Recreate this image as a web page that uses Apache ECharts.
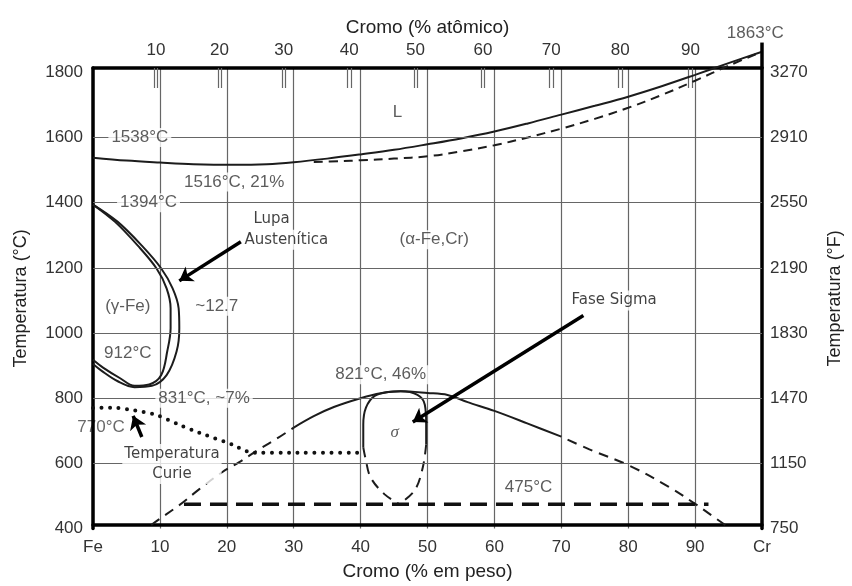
<!DOCTYPE html>
<html>
<head>
<meta charset="utf-8">
<script src="https://cdn.jsdelivr.net/npm/echarts@6/dist/echarts.min.js"></script>
<style>
  html, body { margin: 0; padding: 0; background: #fff; }
  #chart { width: 852px; height: 586px; }
</style>
</head>
<body>
<div id="chart"></div>
<script>
// Fe–Cr equilibrium phase diagram: chromium content (wt%) against temperature (°C)

// Bottom axis tick labels (wt% Cr, every 10 %)
const wtTickLabels = ['Fe', '10', '20', '30', '40', '50', '60', '70', '80', '90', 'Cr'];
// Top axis: atomic % labels and the wt% where each one falls
const atomicTickLabels = ['10', '20', '30', '40', '50', '60', '70', '80', '90'];
const atomicTickWt = [9.4, 18.9, 28.5, 38.3, 48.2, 58.3, 68.5, 78.8, 89.3];
// Right axis labels (°F) printed beside the 400…1800 °C grid lines
const fahrenheitLabels = ['750', '1150', '1470', '1830', '2190', '2550', '2910', '3270'];
// Horizontal grid lines inside the frame (°C)
const gridTemps = [600, 800, 1000, 1200, 1400, 1600];

// Temperature span of the plot frame (°C)
const tempFrameLow = 411;
const tempFrameHigh = 1813;

// Liquidus (solid) and solidus (dashed), [wt% Cr, °C]
const liquidus = [[0, 1538], [5, 1529], [10, 1523], [15, 1518], [21, 1516], [26, 1518], [30, 1524],
  [35, 1535], [40, 1548], [45, 1562], [50, 1579], [55, 1597], [60, 1618], [65, 1643], [70, 1670],
  [75, 1697], [80, 1725], [85, 1757], [90, 1792], [95, 1828], [100, 1863]];
const solidus = [[33, 1525], [37, 1527], [40, 1530], [45, 1535], [50, 1542], [55, 1557], [60, 1576],
  [65, 1600], [70, 1627], [75, 1657], [80, 1691], [85, 1730], [90, 1774], [95, 1820], [100, 1863]];

// Gamma loop: outer (alpha side) and inner (gamma side) boundaries
const gammaLoopOuter = [[0, 1394], [3.7, 1341], [7.3, 1268], [10.2, 1198], [11.9, 1137], [12.8, 1076],
  [12.9, 1015], [12.5, 944], [11.0, 871], [8.8, 838], [6.2, 834], [3.7, 852], [1.3, 884], [0, 905]];
const gammaLoopInner = [[0, 1394], [3.3, 1341], [6.7, 1268], [9.5, 1198], [11.0, 1137], [11.6, 1076],
  [11.6, 1015], [11.1, 944], [10.2, 871], [8.4, 842], [6.2, 838], [4.0, 862], [1.5, 894], [0, 918]];

// Alpha / (alpha + sigma) boundary
const sigmaBoundaryLowLeft = [[8.7, 411], [9.7, 426], [12.9, 472], [15.9, 521], [19.3, 573], [21.8, 603],
  [24.8, 643], [27.7, 679], [30, 710]];
const sigmaBoundaryTop = [[30, 710], [33, 745], [36, 773], [40, 800], [43, 815], [46, 821], [50, 816],
  [53, 810], [56, 788], [60, 761], [65, 722], [70, 682]];
// listed from the frame's bottom edge upwards
const sigmaBoundaryLowRight = [[94.5, 411], [92.3, 443], [90, 476], [86, 529], [80.1, 594], [74.2, 643],
  [70, 682]];

// Sigma phase field
const sigmaFieldTop = [[40.4, 649], [40.4, 719], [40.8, 771], [42.1, 807], [44.1, 819], [46, 821],
  [48.5, 810], [49.6, 780], [49.8, 719], [49.8, 658]];
const sigmaFieldLowRight = [[49.8, 658], [49.3, 588], [48.1, 518], [45.8, 475]];
const sigmaFieldLowLeft = [[40.4, 649], [40.7, 618], [41.5, 557], [43.6, 505], [45.8, 475]];

// Curie temperature (magnetic transition)
const curieLine = [[0, 770], [3, 771], [5.9, 764], [9.5, 749], [12.5, 722], [15.9, 694], [20.8, 658],
  [23.7, 633], [30, 633], [40, 633]];

// 475 °C embrittlement line
const line475 = [[13.6, 475], [92, 475]];

// Cr end of the frame extended up to its melting point
const crMeltEdge = [[100, 1813], [100, 1892]];

// Callout arrows [from, to]
const arrows = [
  [[22.1, 1280], [12.9, 1160]],
  [[73.3, 1054], [47.8, 727]],
  [[7.3, 681], [6.0, 746]]
];

// Text placed inside the diagram
const diagramLabels = [
  ['L', 45.5, 1676],
  ['1538°C', 7.0, 1600],
  ['1516°C, 21%', 21.1, 1463],
  ['1394°C', 8.3, 1400],
  ['(α-Fe,Cr)', 51.0, 1286],
  ['(γ-Fe)', 5.2, 1082],
  ['~12.7', 18.5, 1082],
  ['912°C', 5.2, 938],
  ['831°C, ~7%', 16.6, 800],
  ['821°C, 46%', 43.0, 872],
  ['475°C', 65.1, 527],
  ['1863°C', 99.0, 1920]
];
const sigmaSymbol = ['σ', 45.1, 694];
const curieValueLabel = ['770°C', 1.2, 712];
const calloutLabels = [
  ['Lupa', 26.7, 1350],
  ['Austenítica', 28.9, 1286],
  ['Fase Sigma', 77.9, 1100],
  ['Temperatura\nCurie', 11.8, 598]
];

const INK = '#1c1c1c';
const GRID = '#666666';
const SANS = 'Liberation Sans';

// The atomic-% ticks are drawn as thin double strokes
const TICK_HALF_GAP = 0.25;
const atomicTickStrokes = [];
atomicTickWt.forEach(function (v) {
  atomicTickStrokes.push(v - TICK_HALF_GAP, v + TICK_HALF_GAP);
});

function curve(data, opts) {
  return Object.assign({
    type: 'line', data: data, xAxisIndex: 0, yAxisIndex: 0,
    showSymbol: false, symbol: 'none', smooth: 0.35, clip: false, silent: true,
    lineStyle: { color: INK, width: 2 }, z: 3
  }, opts || {});
}

function labelSeries(items, labelStyle, z) {
  return {
    type: 'scatter', xAxisIndex: 0, yAxisIndex: 0, symbolSize: 0, clip: false, silent: true, z: z,
    data: items.map(function (d) { return { name: d[0], value: [d[1], d[2]] }; }),
    label: Object.assign({ show: true, position: 'inside', formatter: '{b}' }, labelStyle)
  };
}

const chart = echarts.init(document.getElementById('chart'), null, { renderer: 'canvas' });

// Grid spans 400 °C (bottom) to the top of the frame; the bottom axis is lifted to the frame's low edge
const gridTop = 68;
const gridBottomPx = 531.6;
const pxPerDeg = (gridBottomPx - gridTop) / (tempFrameHigh - 400);
const bottomLift = (tempFrameLow - 400) * pxPerDeg;

chart.setOption({
  animation: false,
  backgroundColor: '#ffffff',
  grid: { left: 93, right: 85, top: gridTop, bottom: 586 - gridBottomPx, containLabel: false },
  xAxis: [
    {
      type: 'value', position: 'bottom', offset: -bottomLift, min: 0, max: 100, interval: 10,
      name: 'Cromo (% em peso)', nameLocation: 'middle', nameGap: 37,
      nameTextStyle: { fontFamily: SANS, fontSize: 19, color: '#222' },
      axisLine: { show: true, onZero: false, lineStyle: { color: '#000', width: 3.5 } },
      axisTick: { show: false },
      axisLabel: {
        margin: 14, fontFamily: SANS, fontSize: 17, color: '#333',
        formatter: function (v) { return wtTickLabels[Math.round(v / 10)]; }
      },
      splitLine: { show: true, lineStyle: { color: GRID, width: 1.2 } }
    },
    {
      type: 'value', position: 'top', min: 0, max: 100,
      name: 'Cromo (% atômico)', nameLocation: 'middle', nameGap: 31,
      nameTextStyle: { fontFamily: SANS, fontSize: 19, color: '#222' },
      axisLine: { show: true, onZero: false, lineStyle: { color: '#000', width: 3.5 } },
      axisTick: {
        show: true, inside: true, length: 20, customValues: atomicTickStrokes,
        lineStyle: { color: '#666', width: 1.2 }
      },
      axisLabel: {
        margin: 9, fontFamily: SANS, fontSize: 17, color: '#333', customValues: atomicTickWt,
        formatter: function (v) {
          const i = atomicTickWt.indexOf(v);
          return i >= 0 ? atomicTickLabels[i] : '';
        }
      },
      splitLine: { show: false }
    }
  ],
  yAxis: [
    {
      type: 'value', position: 'left', min: 400, max: tempFrameHigh, interval: 200,
      name: 'Temperatura (°C)', nameLocation: 'middle', nameGap: 63, nameRotate: 90,
      nameTextStyle: { fontFamily: SANS, fontSize: 18, color: '#222' },
      axisLine: { show: true, onZero: false, lineStyle: { color: '#000', width: 3.5 } },
      axisTick: { show: false },
      axisLabel: {
        margin: 10, fontFamily: SANS, fontSize: 17, color: '#333', showMaxLabel: false,
        formatter: function (v) { return v > 1800 ? '' : String(v); }
      },
      splitLine: { show: false }
    },
    {
      type: 'value', position: 'right', min: 400, max: tempFrameHigh, interval: 200,
      name: 'Temperatura (°F)', nameLocation: 'middle', nameGap: 64, nameRotate: 90,
      nameTextStyle: { fontFamily: SANS, fontSize: 18, color: '#222' },
      axisLine: { show: true, onZero: false, lineStyle: { color: '#000', width: 3.5 } },
      axisTick: { show: false },
      axisLabel: {
        margin: 8, fontFamily: SANS, fontSize: 17, color: '#333', showMaxLabel: false,
        formatter: function (v) {
          const i = Math.round((v - 400) / 200);
          return v > 1800 ? '' : fahrenheitLabels[i];
        }
      },
      splitLine: { show: false }
    }
  ],
  series: [
    {
      // horizontal temperature grid
      type: 'line', data: [], xAxisIndex: 0, yAxisIndex: 0, silent: true, z: 1,
      markLine: {
        silent: true, symbol: ['none', 'none'], label: { show: false },
        lineStyle: { color: GRID, width: 1.2, type: 'solid' },
        data: gridTemps.map(function (t) { return { yAxis: t }; })
      }
    },
    curve(liquidus),
    curve(solidus, { lineStyle: { color: INK, width: 2, type: [9, 6] } }),
    curve(gammaLoopOuter),
    curve(gammaLoopInner),
    curve(sigmaBoundaryLowLeft, { lineStyle: { color: INK, width: 2, type: [10, 7] } }),
    curve(sigmaBoundaryTop),
    curve(sigmaBoundaryLowRight, { lineStyle: { color: INK, width: 2, type: [10, 7] } }),
    curve(sigmaFieldTop),
    curve(sigmaFieldLowRight, { lineStyle: { color: INK, width: 2, type: [10, 7] } }),
    curve(sigmaFieldLowLeft, { lineStyle: { color: INK, width: 2, type: [10, 7] } }),
    curve(curieLine, { smooth: 0.2, lineStyle: { color: '#111', width: 4, type: [0, 8.5], cap: 'round' } }),
    curve(line475, { smooth: false, lineStyle: { color: '#111', width: 3.5, type: [17, 9] } }),
    curve(crMeltEdge, { smooth: false, z: 4, lineStyle: { color: '#000', width: 3.5 } }),
    {
      type: 'lines', coordinateSystem: 'cartesian2d', xAxisIndex: 0, yAxisIndex: 0,
      silent: true, z: 6, symbol: ['none', 'arrow'], symbolSize: [0, 13],
      lineStyle: { color: '#000', width: 3.5, opacity: 1, curveness: 0 },
      data: arrows.map(function (a) { return { coords: a }; })
    },
    labelSeries(diagramLabels, {
      fontFamily: SANS, fontSize: 17, color: '#333',
      backgroundColor: '#fff', padding: [1, 3]
    }, 5),
    labelSeries([sigmaSymbol], {
      fontFamily: 'Liberation Serif', fontStyle: 'italic', fontSize: 17, color: '#333'
    }, 5),
    labelSeries([curieValueLabel], {
      fontFamily: SANS, fontSize: 17, color: '#444'
    }, -1),
    labelSeries(calloutLabels, {
      fontFamily: 'DejaVu Sans', fontSize: 15, color: '#111', lineHeight: 20,
      backgroundColor: '#fff', padding: [0, 2]
    }, 5)
  ]
});
</script>
</body>
</html>
